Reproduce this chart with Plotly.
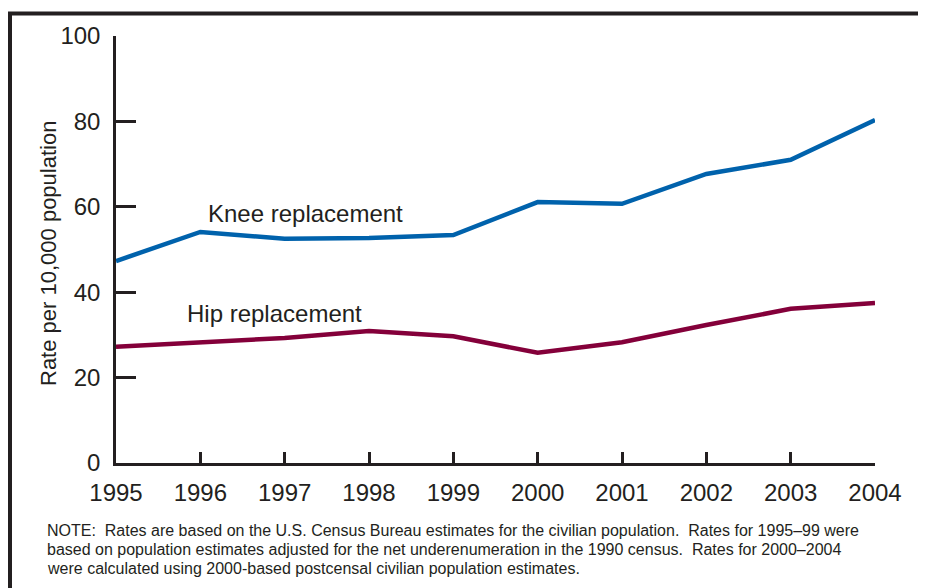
import plotly.graph_objects as go

years = [1995, 1996, 1997, 1998, 1999, 2000, 2001, 2002, 2003, 2004]
knee = [47.3, 54.1, 52.5, 52.7, 53.4, 61.1, 60.7, 67.7, 71.0, 80.3]
hip = [27.2, 28.3, 29.3, 30.9, 29.7, 25.8, 28.3, 32.3, 36.1, 37.5]
y_ticks = [0, 20, 40, 60, 80, 100]
note_lines = [
    "NOTE:  Rates are based on the U.S. Census Bureau estimates for the civilian population.  Rates for 1995–99 were",
    "based on population estimates adjusted for the net underenumeration in the 1990 census.  Rates for 2000–2004",
    "were calculated using 2000-based postcensal civilian population estimates.",
]

FONT = "Liberation Sans, Arial, Helvetica, sans-serif"
INK = "#231f20"

# The page body has an 8px margin; figure is sized so the plot area sits at
# x 116..875 and y 36..463 in the 926x588 window.
W, H = 918, 580
ML, MR, MT, MB = 108, 51, 28, 125
PW = W - ML - MR
PH = H - MT - MB


def px_x(px):
    return (px - 8 - ML) / PW


def px_y(py):
    return (H - MB - (py - 8)) / PH


fig = go.Figure()
fig.add_trace(go.Scatter(x=years, y=knee, mode="lines", name="Knee replacement",
                         line=dict(color="#0062ac", width=4.5)))
fig.add_trace(go.Scatter(x=years, y=hip, mode="lines", name="Hip replacement",
                         line=dict(color="#84003a", width=4.5)))

annotations = [
    dict(x=1996.10, y=58.5, xref="x", yref="y", text="Knee replacement", showarrow=False,
         xanchor="left", yanchor="middle", xshift=-3, font=dict(size=24, color=INK)),
    dict(x=1995.85, y=35.1, xref="x", yref="y", text="Hip replacement", showarrow=False,
         xanchor="left", yanchor="middle", xshift=-3, font=dict(size=24, color=INK)),
    dict(x=px_x(48), y=px_y(254), xref="paper", yref="paper", text="Rate per 10,000 population",
         textangle=-90, showarrow=False, xanchor="center", yanchor="middle",
         font=dict(size=22, color=INK)),
]
for i, line in enumerate(note_lines):
    annotations.append(dict(x=px_x(45), y=px_y(530 + 19 * i), xref="paper", yref="paper",
                            text=line, showarrow=False, xanchor="left", yanchor="middle",
                            align="left", font=dict(size=16, color=INK)))

fig.update_layout(
    width=W, height=H,
    margin=dict(l=ML, r=MR, t=MT, b=MB, autoexpand=False),
    paper_bgcolor="white", plot_bgcolor="white",
    showlegend=False,
    font=dict(family=FONT, color=INK),
    xaxis=dict(range=[1995, 2004], tickvals=years, ticktext=[str(y) for y in years],
               showgrid=False, zeroline=False, showline=True, linecolor=INK, linewidth=2.5,
               ticks="inside", ticklen=11, tickwidth=2.5, tickcolor=INK,
               tickfont=dict(size=24, color=INK), ticklabelstandoff=6),
    yaxis=dict(range=[0, 100], tickvals=y_ticks,
               showgrid=False, zeroline=False, showline=True, linecolor=INK, linewidth=2.5,
               ticks="inside", ticklen=20, tickwidth=2.5, tickcolor=INK,
               tickfont=dict(size=24, color=INK), ticklabelstandoff=8),
    annotations=annotations,
    shapes=[
        dict(type="rect", xref="paper", yref="paper", x0=px_x(10), y0=-2.0, x1=3.0, y1=px_y(13.5),
             line=dict(color=INK, width=4), fillcolor="rgba(0,0,0,0)", layer="below"),
    ],
)

fig.write_html("out.html")
